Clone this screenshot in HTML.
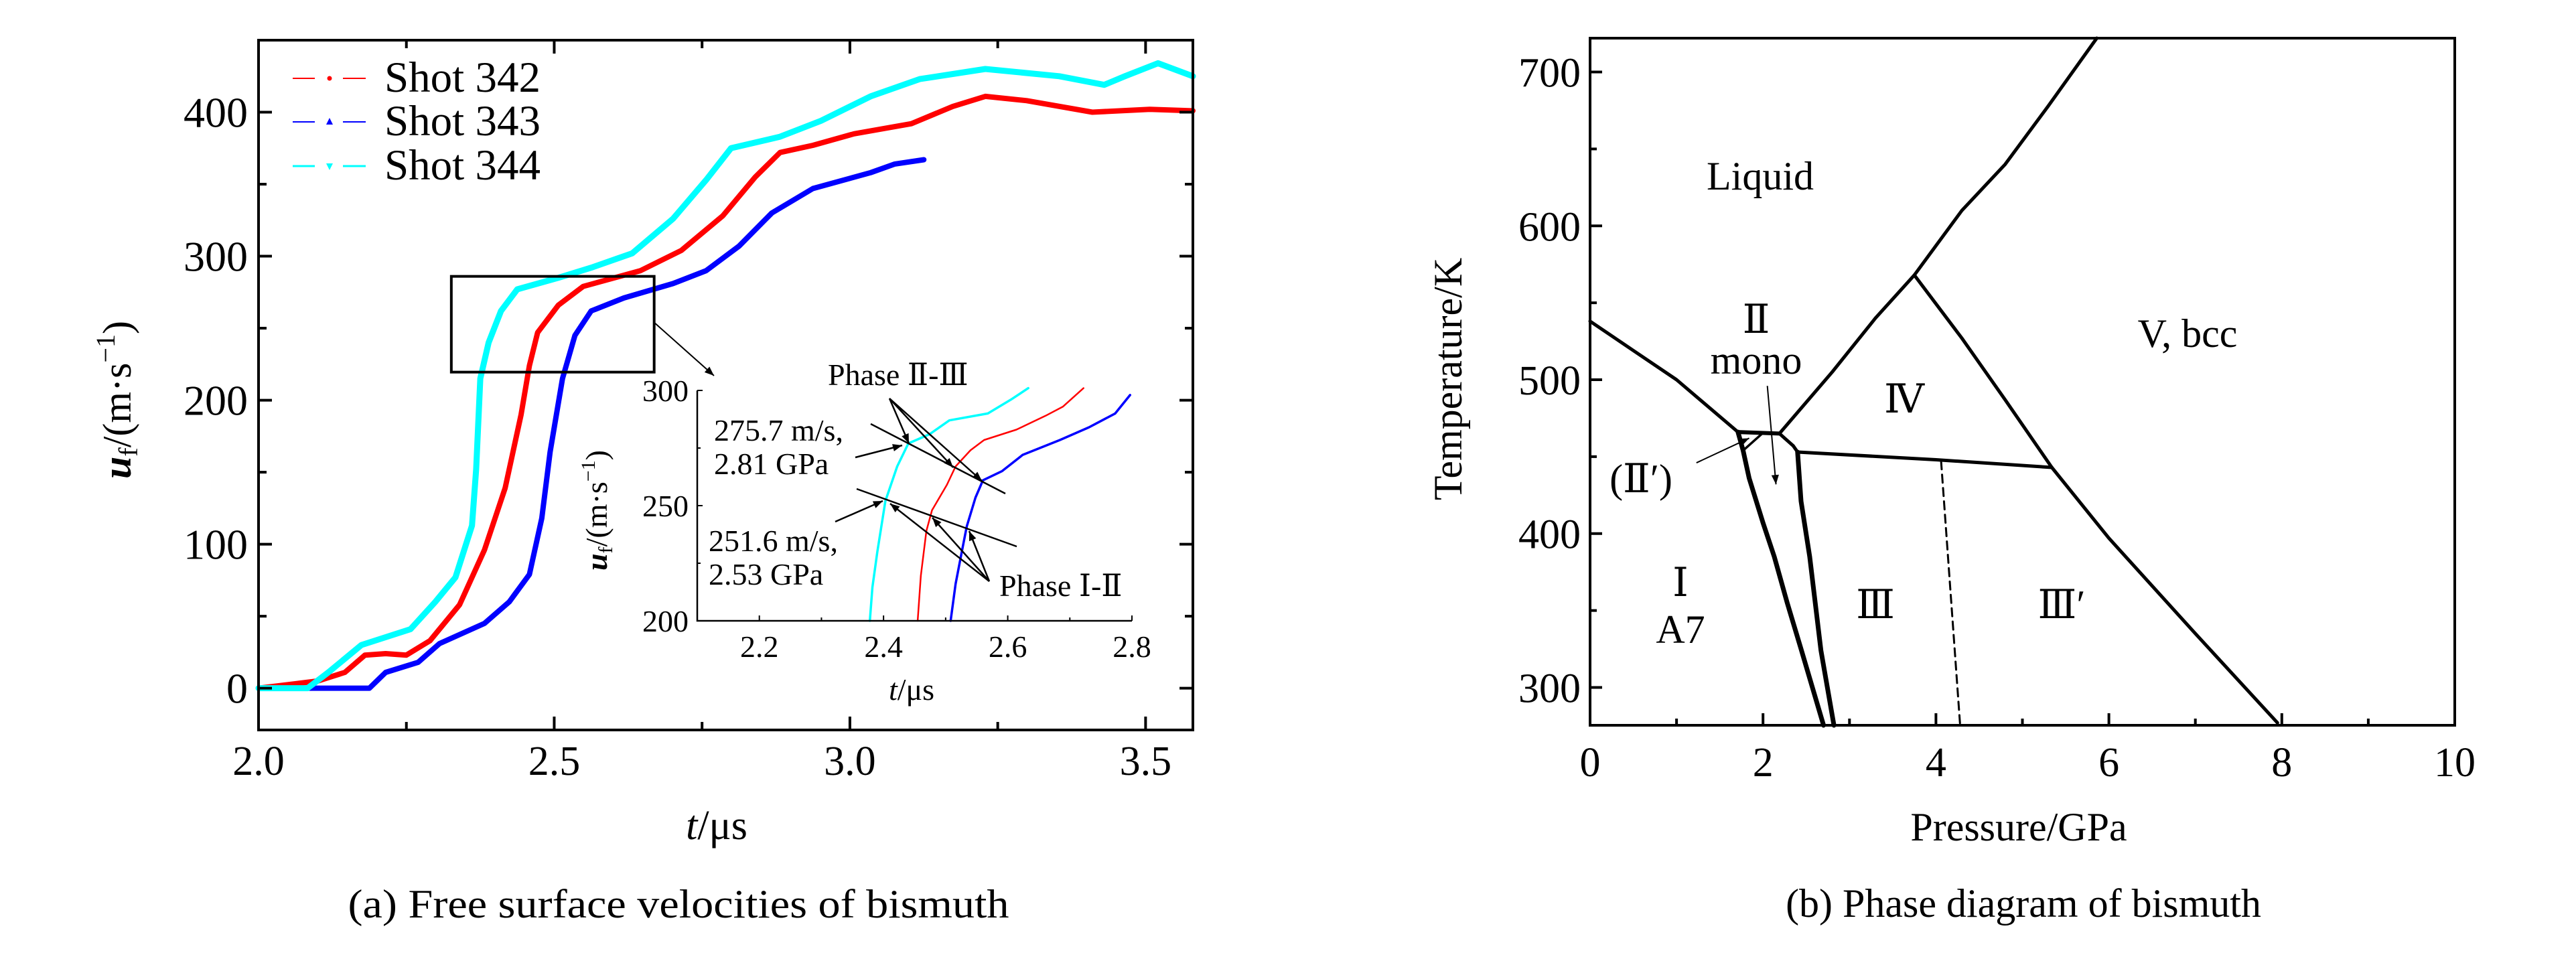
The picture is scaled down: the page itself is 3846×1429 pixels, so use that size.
<!DOCTYPE html>
<html><head><meta charset="utf-8"><title>Bismuth</title>
<style>
html,body{margin:0;padding:0;background:#fff;}
svg{display:block;font-family:"Liberation Serif","DejaVu Serif","Noto Serif CJK SC",serif;}
text{font-family:"Liberation Serif","DejaVu Serif","Noto Serif CJK SC",serif;fill:#000;}
</style></head>
<body>
<svg id="fig" xmlns="http://www.w3.org/2000/svg" width="3846" height="1429" viewBox="0 0 3846 1429" font-family="Liberation Serif, DejaVu Serif, serif">
<rect x="0" y="0" width="3846" height="1429" fill="#fff"/>
</svg>
<script>
// ---------- Panel (a) data ----------
const shotNames = ["Shot 342", "Shot 343", "Shot 344"];
const shotColors = ["#ff0000", "#0000ff", "#00ffff"];
const t342 = [2.0,2.06,2.10,2.146,2.18,2.215,2.25,2.29,2.34,2.382,2.417,2.444,2.458,2.472,2.507,2.549,2.646,2.715,2.785,2.84,2.882,2.9375,3.007,3.104,3.174,3.229,3.299,3.41,3.507,3.58];
const u342 = [0,3,5,11,23,24,23,33,58,96,139,190,224,247,266,279,290,304,328,355,372,377,385,392,404,411,408,400,402,401];
const t343 = [2.0,2.1875,2.215,2.27,2.306,2.382,2.424,2.458,2.479,2.493,2.514,2.535,2.5625,2.618,2.701,2.757,2.8125,2.868,2.9375,3.035,3.076,3.125];
const u343 = [0,0,11,18,31,45,60,79,118,164,215,245,262,271,281,290,307,330,347,358,364,367];
const t344 = [2.0,2.083,2.118,2.174,2.257,2.299,2.333,2.361,2.368,2.375,2.389,2.41,2.4375,2.507,2.5625,2.632,2.701,2.757,2.799,2.882,2.951,3.035,3.118,3.229,3.354,3.43,3.465,3.521,3.58];
const u344 = [0,0,11,30,41,60,77,113,152,215,240,262,277,285,292,302,326,353,375,383,394,411,423,430,425,419,425,434,425];
const xTicksA = [2.0,2.5,3.0,3.5];
const xTickLabelsA = ["2.0","2.5","3.0","3.5"];
const yTicksA = [0,100,200,300,400];
const yTickLabelsA = ["0","100","200","300","400"];
const boxT = [2.326, 2.669];
const boxU = [219.5, 286];
const it342 = [2.455,2.46,2.469,2.478,2.502,2.516,2.54,2.562,2.614,2.661,2.689,2.722];
const iu342 = [200,219.5,239,248,259,267,274,278.5,283,289,293,301];
const it343 = [2.508,2.516,2.526,2.534,2.548,2.56,2.591,2.624,2.684,2.731,2.773,2.797];
const iu343 = [200,216,230,241,253.5,261,265,272,278.5,284,290,298];
const it344 = [2.378,2.382,2.39,2.403,2.422,2.44,2.474,2.506,2.568,2.605,2.633];
const iu344 = [200,214.5,230,252,267,277,281,287,290,296,301];
const xTicksIn = [2.2,2.4,2.6,2.8];
const xTickLabelsIn = ["2.2","2.4","2.6","2.8"];
const yTicksIn = [200,250,300];
const yTickLabelsIn = ["200","250","300"];

// ---------- Panel (b) data ----------
const xTicksB = [0,2,4,6,8,10];
const xTickLabelsB = ["0","2","4","6","8","10"];
const yTicksB = [300,400,500,600,700];
const yTickLabelsB = ["300","400","500","600","700"];
const lineMeltI_P = [0,0.5,1.0,1.71];
const lineMeltI_T = [538,519,500,466];
const lineLiqII_P = [1.71,2.19];
const lineLiqII_T = [466,465];
const lineMeltIV_P = [2.19,2.8,3.3,3.75];
const lineMeltIV_T = [465,505,540,568];
const lineMeltV_P = [3.75,4.3,4.8,5.3,5.86];
const lineMeltV_T = [568,610,640,678,722];
const lineIVV_P = [3.75,4.3,4.8,5.34,6.0,7.0,7.95];
const lineIVV_T = [568,527,487,443,397,335,277];
const lineIIIIV_P = [2.19,2.35,2.4,4.0,5.34];
const lineIIIIV_T = [465,457,453,448,443];
const lineIIIII_P = [2.4,2.44,2.54,2.67,2.82];
const lineIIIII_T = [453,421,385,324,275.4];
const lineIII_P = [1.71,1.77,1.84,2.0,2.13,2.28,2.44,2.70];
const lineIII_T = [466,454,436,407,385,355,325,275.4];
const lineIIp_P = [1.77,1.99];
const lineIIp_T = [454,465];
const lineDash_P = [4.06,4.28];
const lineDash_T = [447,275.4];

const NS = "http://www.w3.org/2000/svg";
const svg = document.getElementById("fig");
function mk(tag, attrs, parent){
  const e = document.createElementNS(NS, tag);
  for (const k in attrs) e.setAttribute(k, attrs[k]);
  (parent||svg).appendChild(e);
  return e;
}
function txt(s, x, y, size, anchor, parent, extra){
  const e = mk("text", Object.assign({x:x, y:y, "font-size":size, "text-anchor":anchor||"middle"}, extra||{}), parent);
  e.textContent = s;
  return e;
}
const defs = mk("defs", {});
const mrk = mk("marker", {id:"ah", viewBox:"0 0 10 10", refX:"10", refY:"5", orient:"auto-start-reverse", markerUnits:"userSpaceOnUse"}, defs);
mrk.setAttribute("markerWidth","24"); mrk.setAttribute("markerHeight","14");
mk("path", {d:"M0,1 L10,5 L0,9 z", fill:"#000"}, mrk);

// ===== Panel A =====
const AX0=386, AX1=1781, AY0=60, AY1=1090;
const aT0=2.0, aT1=3.58, aU0=-29, aU1=450;
function ax(t){ return AX0 + (t-aT0)/(aT1-aT0)*(AX1-AX0); }
function ay(u){ return AY1 - (u-aU0)/(aU1-aU0)*(AY1-AY0); }

const gA = mk("g", {});



function path(ts, us, fx, fy, parent, stroke, w, dash){
  let d = "";
  for (let i=0;i<ts.length;i++) d += (i?"L":"M") + fx(ts[i]).toFixed(1) + "," + fy(us[i]).toFixed(1);
  const p = mk("path", {d:d, fill:"none", stroke:stroke, "stroke-width":w, "stroke-linejoin":"round", "stroke-linecap":"round"}, parent);
  if (dash) p.setAttribute("stroke-dasharray", dash);
  
  return p;
}

path(t342, u342, ax, ay, gA, shotColors[0], 8);
path(t343, u343, ax, ay, gA, shotColors[1], 8);
path(t344, u344, ax, ay, gA, shotColors[2], 9);

const frA = mk("rect", {x:AX0, y:AY0, width:AX1-AX0, height:AY1-AY0, fill:"none", stroke:"#000", "stroke-width":4}, gA);


for (let t=2.0; t<=3.58; t+=0.25){
  const x = ax(t);
  const major = Math.abs((t*2)-Math.round(t*2))<1e-6;
  const L = major?20:12;
  mk("line", {x1:x, y1:AY1, x2:x, y2:AY1-L, stroke:"#000", "stroke-width":4}, gA);
  mk("line", {x1:x, y1:AY0, x2:x, y2:AY0+L, stroke:"#000", "stroke-width":4}, gA);
}
xTicksA.forEach((t,i)=>{
  const e = txt(xTickLabelsA[i], ax(t), 1157, 62, "middle", gA);
  
  
});
for (let u=0; u<=450; u+=50){
  const y = ay(u);
  const L = (u%100===0)?20:12;
  mk("line", {x1:AX0, y1:y, x2:AX0+L, y2:y, stroke:"#000", "stroke-width":4}, gA);
  mk("line", {x1:AX1, y1:y, x2:AX1-L, y2:y, stroke:"#000", "stroke-width":4}, gA);
}
yTicksA.forEach((u,i)=>{
  const e = txt(yTickLabelsA[i], 370, ay(u)+22, 64, "end", gA);
  
  
});
const xtA = mk("text", {x:1070, y:1253, "font-size":62, "text-anchor":"middle"}, gA);
xtA.innerHTML = '<tspan font-style="italic">t</tspan>/μs';


const ytA = mk("text", {x:0, y:0, "font-size":60, "text-anchor":"middle", transform:"translate(195,597) rotate(-90)"}, gA);
ytA.innerHTML = '<tspan font-style="italic" font-weight="bold">u</tspan><tspan font-size="40" dy="10">f</tspan><tspan dy="-10">/(m·s</tspan><tspan font-size="40" dy="-24">−1</tspan><tspan dy="24">)</tspan>';


const capA = txt("(a) Free surface velocities of bismuth", 1013, 1370, 60, "middle", gA, {textLength:987, lengthAdjust:"spacingAndGlyphs"});



const legRows = [117, 182, 248];
shotNames.forEach((n,i)=>{
  const g = mk("g", {}, gA);
  
  
  const y = legRows[i];
  mk("line", {x1:437, y1:y, x2:470, y2:y, stroke:shotColors[i], "stroke-width":i==2?3:2}, g);
  mk("line", {x1:512, y1:y, x2:546, y2:y, stroke:shotColors[i], "stroke-width":i==2?3:2}, g);
  if (i==0) mk("circle", {cx:492, cy:y, r:3.5, fill:shotColors[i]}, g);
  if (i==1) mk("path", {d:`M487,${y+4} L492,${y-6} L497,${y+4} z`, fill:shotColors[i]}, g);
  if (i==2) mk("path", {d:`M487,${y-4} L492,${y+6} L497,${y-4} z`, fill:shotColors[i]}, g);
  txt(n, 574, y+20, 65, "start", g);
});

const zb = mk("rect", {x:ax(boxT[0]), y:ay(boxU[1]), width:ax(boxT[1])-ax(boxT[0]), height:ay(boxU[0])-ay(boxU[1]), fill:"none", stroke:"#000", "stroke-width":4}, gA);


const zarr = mk("line", {x1:ax(boxT[1]), y1:ay(254), x2:1066, y2:561, stroke:"#000", "stroke-width":2, "marker-end":"url(#ah)"}, gA);



// ===== Inset =====
const IX0=1041, IX1=1690, IY0=583, IY1=927;
const iT0=2.1, iT1=2.8, iU0=200, iU1=300;
function ix(t){ return IX0 + (t-iT0)/(iT1-iT0)*(IX1-IX0); }
function iy(u){ return IY1 - (u-iU0)/(iU1-iU0)*(IY1-IY0); }
const gI = mk("g", {});


path(it342, iu342, ix, iy, gI, shotColors[0], 2.5);
path(it343, iu343, ix, iy, gI, shotColors[1], 3.5);
path(it344, iu344, ix, iy, gI, shotColors[2], 3.5);
mk("polyline", {points:`${IX0},${IY0} ${IX0},${IY1} ${IX1},${IY1}`, fill:"none", stroke:"#000", "stroke-width":2.5}, gI);
for (let t=2.1; t<=2.801; t+=0.1){
  const x = ix(t); const maj = Math.round(t*10)%2===0;
  mk("line", {x1:x, y1:IY1, x2:x, y2:IY1-(maj?8:5), stroke:"#000", "stroke-width":2}, gI);
}
for (let u=200; u<=300; u+=25){
  const y = iy(u);
  mk("line", {x1:IX0, y1:y, x2:IX0+(u%50===0?8:5), y2:y, stroke:"#000", "stroke-width":2}, gI);
}
xTicksIn.forEach((t,i)=>{
  const e = txt(xTickLabelsIn[i], ix(t), 981, 46, "middle", gI);
  
  
});
yTicksIn.forEach((u,i)=>{
  const e = txt(yTickLabelsIn[i], 1028, iy(u)+16, 46, "end", gI);
  
  
});
const ixt = mk("text", {x:1361, y:1045, "font-size":46, "text-anchor":"middle"}, gI);
ixt.innerHTML = '<tspan font-style="italic">t</tspan>/μs';


const iyt = mk("text", {x:0, y:0, "font-size":46, "text-anchor":"middle", transform:"translate(906,762) rotate(-90)"}, gI);
iyt.innerHTML = '<tspan font-style="italic" font-weight="bold">u</tspan><tspan font-size="30" dy="8">f</tspan><tspan dy="-8">/(m·s</tspan><tspan font-size="30" dy="-18">−1</tspan><tspan dy="18">)</tspan>';



const gN = mk("g", {});


function ln(x1,y1,x2,y2,arrow){ const l = mk("line", {x1:x1,y1:y1,x2:x2,y2:y2, stroke:"#000","stroke-width":2.5}, gN); if(arrow) l.setAttribute("marker-end","url(#ah)"); return l; }
ln(1300,633,1501,737);
ln(1279,730,1518,816);
ln(1328,595,1357,662,true); ln(1328,595,1423,698,true); ln(1328,595,1466,718,true);
ln(1277,683,1347,665,true);
ln(1247,779,1318,748,true);
ln(1477,868,1329,752,true); ln(1477,868,1392,773,true); ln(1477,868,1447,793,true);
const tf = "\"Liberation Serif\",\"Noto Serif CJK SC\",serif";
[["Phase Ⅱ-Ⅲ",1236,575],["275.7 m/s,",1066,658],["2.81 GPa",1066,708],["251.6 m/s,",1058,823],["2.53 GPa",1058,873],["Phase Ⅰ-Ⅱ",1492,890]].forEach(a=>{
  const e = txt(a[0], a[1], a[2], 46, "start", gN, {"font-family":tf});
  
  
});

// ===== Panel B =====
const BX0=2374, BX1=3665, BY0=57, BY1=1083;
const bP0=0, bP1=10, bT0=275.4, bT1=722;
function bx(p){ return BX0 + (p-bP0)/(bP1-bP0)*(BX1-BX0); }
function by(t){ return BY1 - (t-bT0)/(bT1-bT0)*(BY1-BY0); }
const gB = mk("g", {});


path(lineMeltI_P, lineMeltI_T, bx, by, gB, "#000", 5);
path(lineLiqII_P, lineLiqII_T, bx, by, gB, "#000", 6);
path(lineMeltIV_P, lineMeltIV_T, bx, by, gB, "#000", 5);
path(lineMeltV_P, lineMeltV_T, bx, by, gB, "#000", 5);
path(lineIVV_P, lineIVV_T, bx, by, gB, "#000", 5);
path(lineIIIIV_P, lineIIIIV_T, bx, by, gB, "#000", 5);
path(lineIIIII_P, lineIIIII_T, bx, by, gB, "#000", 7);
path(lineIII_P, lineIII_T, bx, by, gB, "#000", 7);
path(lineIIp_P, lineIIp_T, bx, by, gB, "#000", 3.5);
path(lineDash_P, lineDash_T, bx, by, gB, "#000", 3, "12,8");
const frB = mk("rect", {x:BX0, y:BY0, width:BX1-BX0, height:BY1-BY0, fill:"none", stroke:"#000", "stroke-width":4}, gB);


for (let p=0; p<=10; p++){
  const x = bx(p); const L = p%2===0?18:10;
  mk("line", {x1:x, y1:BY1, x2:x, y2:BY1-L, stroke:"#000", "stroke-width":4}, gB);
}
for (let t=300; t<=700; t+=50){
  const y = by(t); const L = t%100===0?18:10;
  mk("line", {x1:BX0, y1:y, x2:BX0+L, y2:y, stroke:"#000", "stroke-width":4}, gB);
}
xTicksB.forEach((p,i)=>{
  const e = txt(xTickLabelsB[i], bx(p), 1159, 62, "middle", gB);
  
  
});
yTicksB.forEach((t,i)=>{
  const e = txt(yTickLabelsB[i], 2360, by(t)+22, 62, "end", gB);
  
  
});
const xtB = txt("Pressure/GPa", 3014, 1255, 60, "middle", gB);


const ytB = txt("Temperature/K", 0, 0, 60, "middle", gB, {transform:"translate(2182,566) rotate(-90)"});


const capB = txt("(b) Phase diagram of bismuth", 3021, 1369, 60, "middle", gB);


[["Liquid",2628,283],["Ⅱ",2622,497],["mono",2622,558],["Ⅳ",2843,616],["V, bcc",3266,518],["(Ⅱ′)",2450,735],["Ⅰ",2509,890],["A7",2509,960],["Ⅲ",2800,923],["Ⅲ′",3078,923]].forEach(a=>{
  const e = txt(a[0], a[1], a[2], 60, "middle", gB, {"font-family":tf});
  
  
});
const a1 = mk("line", {x1:bx(2.05), y1:by(496), x2:bx(2.15), y2:by(432), stroke:"#000", "stroke-width":2, "marker-end":"url(#ah)"}, gB);


const a2 = mk("line", {x1:bx(1.23), y1:by(446), x2:bx(1.84), y2:by(462), stroke:"#000", "stroke-width":2, "marker-end":"url(#ah)"}, gB);


</script>
</body></html>
